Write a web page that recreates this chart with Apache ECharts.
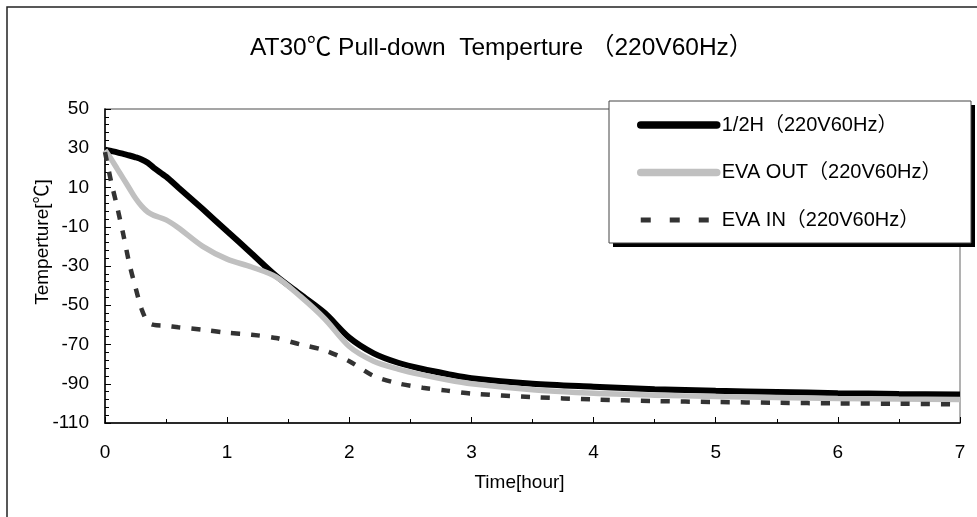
<!DOCTYPE html>
<html>
<head>
<meta charset="utf-8">
<script src="https://cdn.jsdelivr.net/npm/echarts@6/dist/echarts.min.js"></script>
<style>
  html, body { margin: 0; padding: 0; background: #fff; }
  #chart { width: 977px; height: 517px; }
</style>
</head>
<body>
<div id="chart"></div>
<script>
// Text
const titleText = 'AT30℃ Pull-down  Temperture （220V60Hz）';
const xAxisName = 'Time[hour]';
const yAxisName = 'Temperture[℃]';
const seriesNames = ['1/2H（220V60Hz）', 'EVA OUT（220V60Hz）', 'EVA IN（220V60Hz）'];

// Axis ranges (tick labels: 0..7 hours, -110..50 ℃ every 20)
const xMin = 0, xMax = 7, xStep = 1;
const yMin = -110, yMax = 50, yStep = 20;

// Sample times [hour]
const hours = [0, 0.05, 0.1, 0.15, 0.2, 0.25, 0.3, 0.35, 0.4, 0.5, 0.6, 0.8, 1.0, 1.2, 1.4, 1.6, 1.8, 2.0,
               2.2, 2.4, 2.6, 2.8, 3.0, 3.5, 4.0, 4.5, 5.0, 5.5, 6.0, 6.5, 7.0];

// Temperatures [℃]
const halfH  = [29.3, 28.6, 27.9, 27.1, 26.3, 25.4, 24.3, 22.6, 20.0, 15.5, 10.0, -1.0, -12.3, -23.6, -35.0, -44.5, -54.0, -66.5,
                -74.5, -79.3, -82.5, -85.0, -87.2, -90.0, -91.5, -92.8, -93.6, -94.2, -94.8, -95.2, -95.5];
const evaOut = [29.0, 24.5, 19.5, 14.5, 9.5, 4.5, 0.5, -2.5, -4.2, -6.5, -10.5, -20.0, -26.5, -30.5, -35.5, -45.5, -57.0, -71.0,
                -78.5, -82.5, -85.5, -88.0, -90.0, -93.0, -94.8, -95.8, -96.5, -97.0, -97.5, -97.8, -98.0];
const evaIn  = [28.0, 13.0, 0.0, -14.0, -29.0, -41.0, -52.0, -58.5, -60.0, -60.5, -61.2, -62.5, -64.0, -65.0, -66.7, -70.0, -73.0, -78.5,
                -86.0, -89.8, -92.0, -93.5, -95.0, -96.8, -98.0, -98.8, -99.3, -99.7, -100.0, -100.2, -100.5];

const FONT = '"Liberation Sans", Arial, "Noto Sans CJK JP", sans-serif';

function pairs(values) {
  return hours.map((h, i) => [h, values[i]]);
}

const chart = echarts.init(document.getElementById('chart'), null, { renderer: 'canvas' });

const axisCommon = {
  axisLine: { show: true, onZero: false, lineStyle: { color: '#000', width: 1.5 } },
  axisTick: { show: true, inside: true, length: 6, lineStyle: { color: '#000', width: 1 } },
  minorTick: { show: true, length: 4, lineStyle: { color: '#000', width: 1 } },
  splitLine: { show: false },
  axisLabel: { color: '#000', fontFamily: FONT, fontSize: 19 },
  nameTextStyle: { color: '#000', fontFamily: FONT, fontSize: 19 },
  nameMoveOverlap: false
};

chart.setOption({
  backgroundColor: '#fff',
  animation: false,
  title: {
    text: titleText,
    left: 250,
    top: 36,
    padding: 0,
    textStyle: { fontFamily: FONT, fontSize: 24.5, fontWeight: 'normal', color: '#000' }
  },
  grid: {
    left: 105, right: 17, top: 109, bottom: 94,
    show: true, borderColor: '#888', borderWidth: 1.3, backgroundColor: 'transparent'
  },
  xAxis: Object.assign({}, axisCommon, {
    type: 'value', min: xMin, max: xMax, interval: xStep,
    minorTick: Object.assign({}, axisCommon.minorTick, { splitNumber: 2 }),
    axisLabel: Object.assign({}, axisCommon.axisLabel, { margin: 20 }),
    name: xAxisName, nameLocation: 'middle', nameGap: 50,
    nameTextStyle: Object.assign({}, axisCommon.nameTextStyle, { padding: [0, 26, 0, 0] })
  }),
  yAxis: Object.assign({}, axisCommon, {
    type: 'value', min: yMin, max: yMax, interval: yStep,
    minorTick: Object.assign({}, axisCommon.minorTick, { splitNumber: 5 }),
    axisLabel: Object.assign({}, axisCommon.axisLabel, { margin: 16 }),
    name: yAxisName, nameLocation: 'middle', nameGap: 53,
    nameTextStyle: Object.assign({}, axisCommon.nameTextStyle, { padding: [0, 0, 0, 48] })
  }),
  legend: {
    orient: 'vertical',
    left: 609, top: 101,
    padding: [12, 32, 11, 28],
    itemWidth: 76, itemHeight: 14, itemGap: 23.5,
    selectedMode: false,
    itemStyle: { opacity: 0 },
    textStyle: { fontFamily: FONT, fontSize: 20, color: '#000', lineHeight: 24 },
    data: [
      { name: seriesNames[0], lineStyle: { color: '#000', width: 7.5, cap: 'round', type: 'solid' } },
      { name: seriesNames[1], lineStyle: { color: '#c0c0c0', width: 7.5, cap: 'round', type: 'solid' } },
      { name: seriesNames[2], lineStyle: { color: '#333', width: 5, cap: 'butt', type: [10, 19] } }
    ]
  },
  graphic: [
    // outer chart frame
    { type: 'rect', silent: true, z: -10,
      shape: { x: 7, y: 7, width: 1100, height: 1100 },
      style: { fill: 'none', stroke: '#222', lineWidth: 1.5 } },
    // legend box shadow and box
    { type: 'rect', silent: true, z: 3,
      shape: { x: 613, y: 105, width: 362, height: 142 },
      style: { fill: '#000' } },
    { type: 'rect', silent: true, z: 3,
      shape: { x: 609, y: 101, width: 362, height: 142 },
      style: { fill: '#fff', stroke: '#444', lineWidth: 1 } }
  ],
  series: [
    { name: seriesNames[0], type: 'line', data: pairs(halfH), symbol: 'none', smooth: 0.3,
      lineStyle: { color: '#000', width: 6 }, itemStyle: { color: '#000' } },
    { name: seriesNames[1], type: 'line', data: pairs(evaOut), symbol: 'none', smooth: 0.3,
      lineStyle: { color: '#c0c0c0', width: 5.5 }, itemStyle: { color: '#c0c0c0' } },
    { name: seriesNames[2], type: 'line', data: pairs(evaIn), symbol: 'none', smooth: 0.3,
      lineStyle: { color: '#333', width: 4.5, type: [9, 11] }, itemStyle: { color: '#333' } }
  ]
});
</script>
</body>
</html>
